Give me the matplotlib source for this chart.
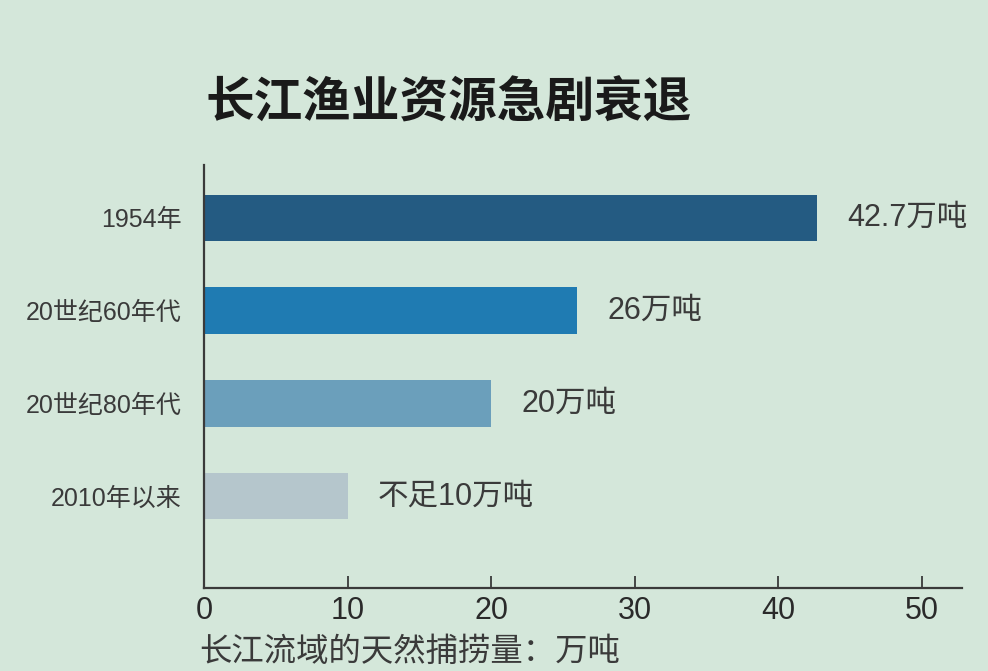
import matplotlib
matplotlib.use("Agg")
import matplotlib.pyplot as plt
from matplotlib import font_manager

categories = ["1954年", "20世纪60年代", "20世纪80年代", "2010年以来"]
values = [42.7, 26, 20, 10]
value_labels = ["42.7万吨", "26万吨", "20万吨", "不足10万吨"]
bar_colors = ["#245b82", "#1f7bb2", "#6b9fbb", "#b5c6cc"]
xticks = [0, 10, 20, 30, 40, 50]
title = "长江渔业资源急剧衰退"
xlabel = "长江流域的天然捕捞量：万吨"

names = {f.name for f in font_manager.fontManager.ttflist}
narrow = "Liberation Sans Narrow" if "Liberation Sans Narrow" in names else "Liberation Sans"
cjk = ["Noto Sans CJK SC", "DejaVu Sans"]
mixed = ["Liberation Sans", "Noto Sans CJK SC", "DejaVu Sans"]
plt.rcParams['font.family'] = cjk

bg = "#d4e7da"
fig = plt.figure(figsize=(9.88, 6.71), dpi=100, facecolor=bg)
ax = fig.add_axes([204/988, (671-588)/671, 758/988, 423/671])
ax.set_facecolor(bg)

ypos = list(range(len(categories)))
ax.barh(ypos, values, height=0.5, color=bar_colors)
ax.set_xlim(0, 52.8)
ax.set_ylim(3.99, -0.57)

for y, v, lab in zip(ypos, values, value_labels):
    ax.annotate(lab, (v, y), xytext=(22, 0), textcoords="offset points",
                va="center", ha="left", fontsize=22, color="#3a3a3a", family=mixed)

ax.set_yticks(ypos)
ax.set_yticklabels(categories, fontsize=18, color="#3a3a3a", family=mixed)
ax.tick_params(axis="y", length=0, pad=16)

ax.set_xticks(xticks)
ax.set_xticklabels([str(t) for t in xticks], fontsize=22, color="#2a2a2a", family=[narrow, "DejaVu Sans"])
ax.tick_params(axis="x", direction="in", length=9, width=1.3, color="#3a3a3a", pad=6)

for s in ["top", "right"]:
    ax.spines[s].set_visible(False)
for s in ["left", "bottom"]:
    ax.spines[s].set_color("#3a3a3a")
    ax.spines[s].set_linewidth(1.6)

fig.text(205/988, 1 - 103/671, title, fontsize=35, fontweight="bold", color="#1a1a1a",
         ha="left", va="center")
fig.text(199/988, 1 - 652/671, xlabel, fontsize=23.3, color="#3a3a3a", ha="left", va="center")

fig.savefig("out.png", dpi=100, facecolor=bg)
